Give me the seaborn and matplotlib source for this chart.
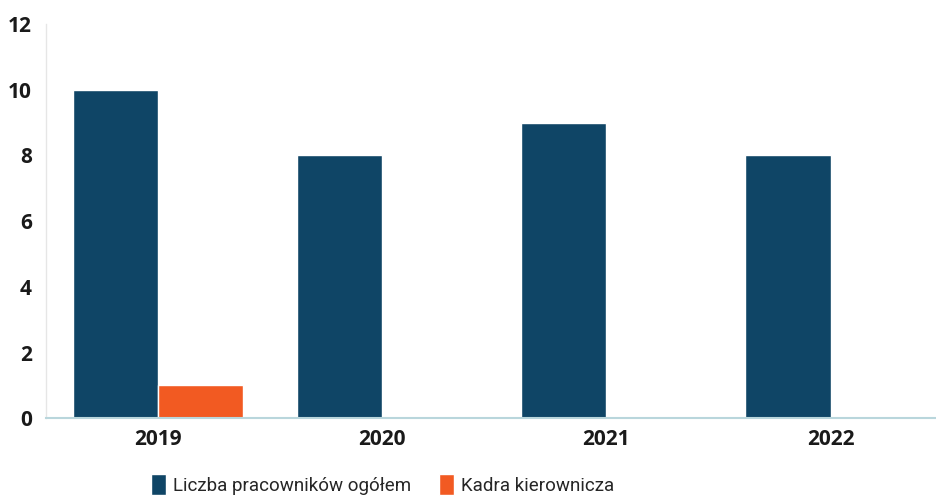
import pandas as pd
import matplotlib.pyplot as plt
import seaborn as sns

years = ['2019', '2020', '2021', '2022']
total_staff = [10, 8, 9, 8]
managers = [1, 0, 0, 0]
series_names = ['Liczba pracowników ogółem', 'Kadra kierownicza']
colors = ['#0f4566', '#f25a22']

df = pd.DataFrame({
    'Rok': years * 2,
    'Wartość': total_staff + managers,
    'Seria': [series_names[0]] * len(years) + [series_names[1]] * len(years),
})

sns.set_style('white')
plt.rcParams['font.family'] = ['Open Sans', 'DejaVu Sans']

fig = plt.figure(figsize=(9.36, 4.98), dpi=100)
ax = fig.add_axes([0.049, 0.16, 0.951, 0.792])

sns.barplot(data=df, x='Rok', y='Wartość', hue='Seria', palette=colors,
            width=0.76, saturation=1, ax=ax)

ax.set_ylim(0, 12)
ax.set_xlim(-0.5, 3.47)
ax.set_yticks(range(0, 13, 2))
ax.set_xlabel('')
ax.set_ylabel('')
ax.tick_params(axis='both', length=0, labelsize=15, labelcolor='#1a1a1a')
ax.tick_params(axis='y', pad=10)
ax.tick_params(axis='x', pad=8)
for lab in ax.get_xticklabels() + ax.get_yticklabels():
    lab.set_fontweight('bold')

for side in ['top', 'right']:
    ax.spines[side].set_visible(False)
ax.spines['left'].set_color('#e6e6e6')
ax.spines['left'].set_linewidth(1.0)
ax.spines['bottom'].set_color('#b9d6dc')
ax.spines['bottom'].set_linewidth(1.5)

leg = ax.legend(loc='center left', bbox_to_anchor=(0.11, -0.168), ncol=2, frameon=False,
                prop={'family': ['Roboto', 'DejaVu Sans'], 'size': 13.5},
                handlelength=0.8, handleheight=1.3, handletextpad=0.35,
                columnspacing=1.5, borderaxespad=0)

fig.savefig('out.png', dpi=100)
